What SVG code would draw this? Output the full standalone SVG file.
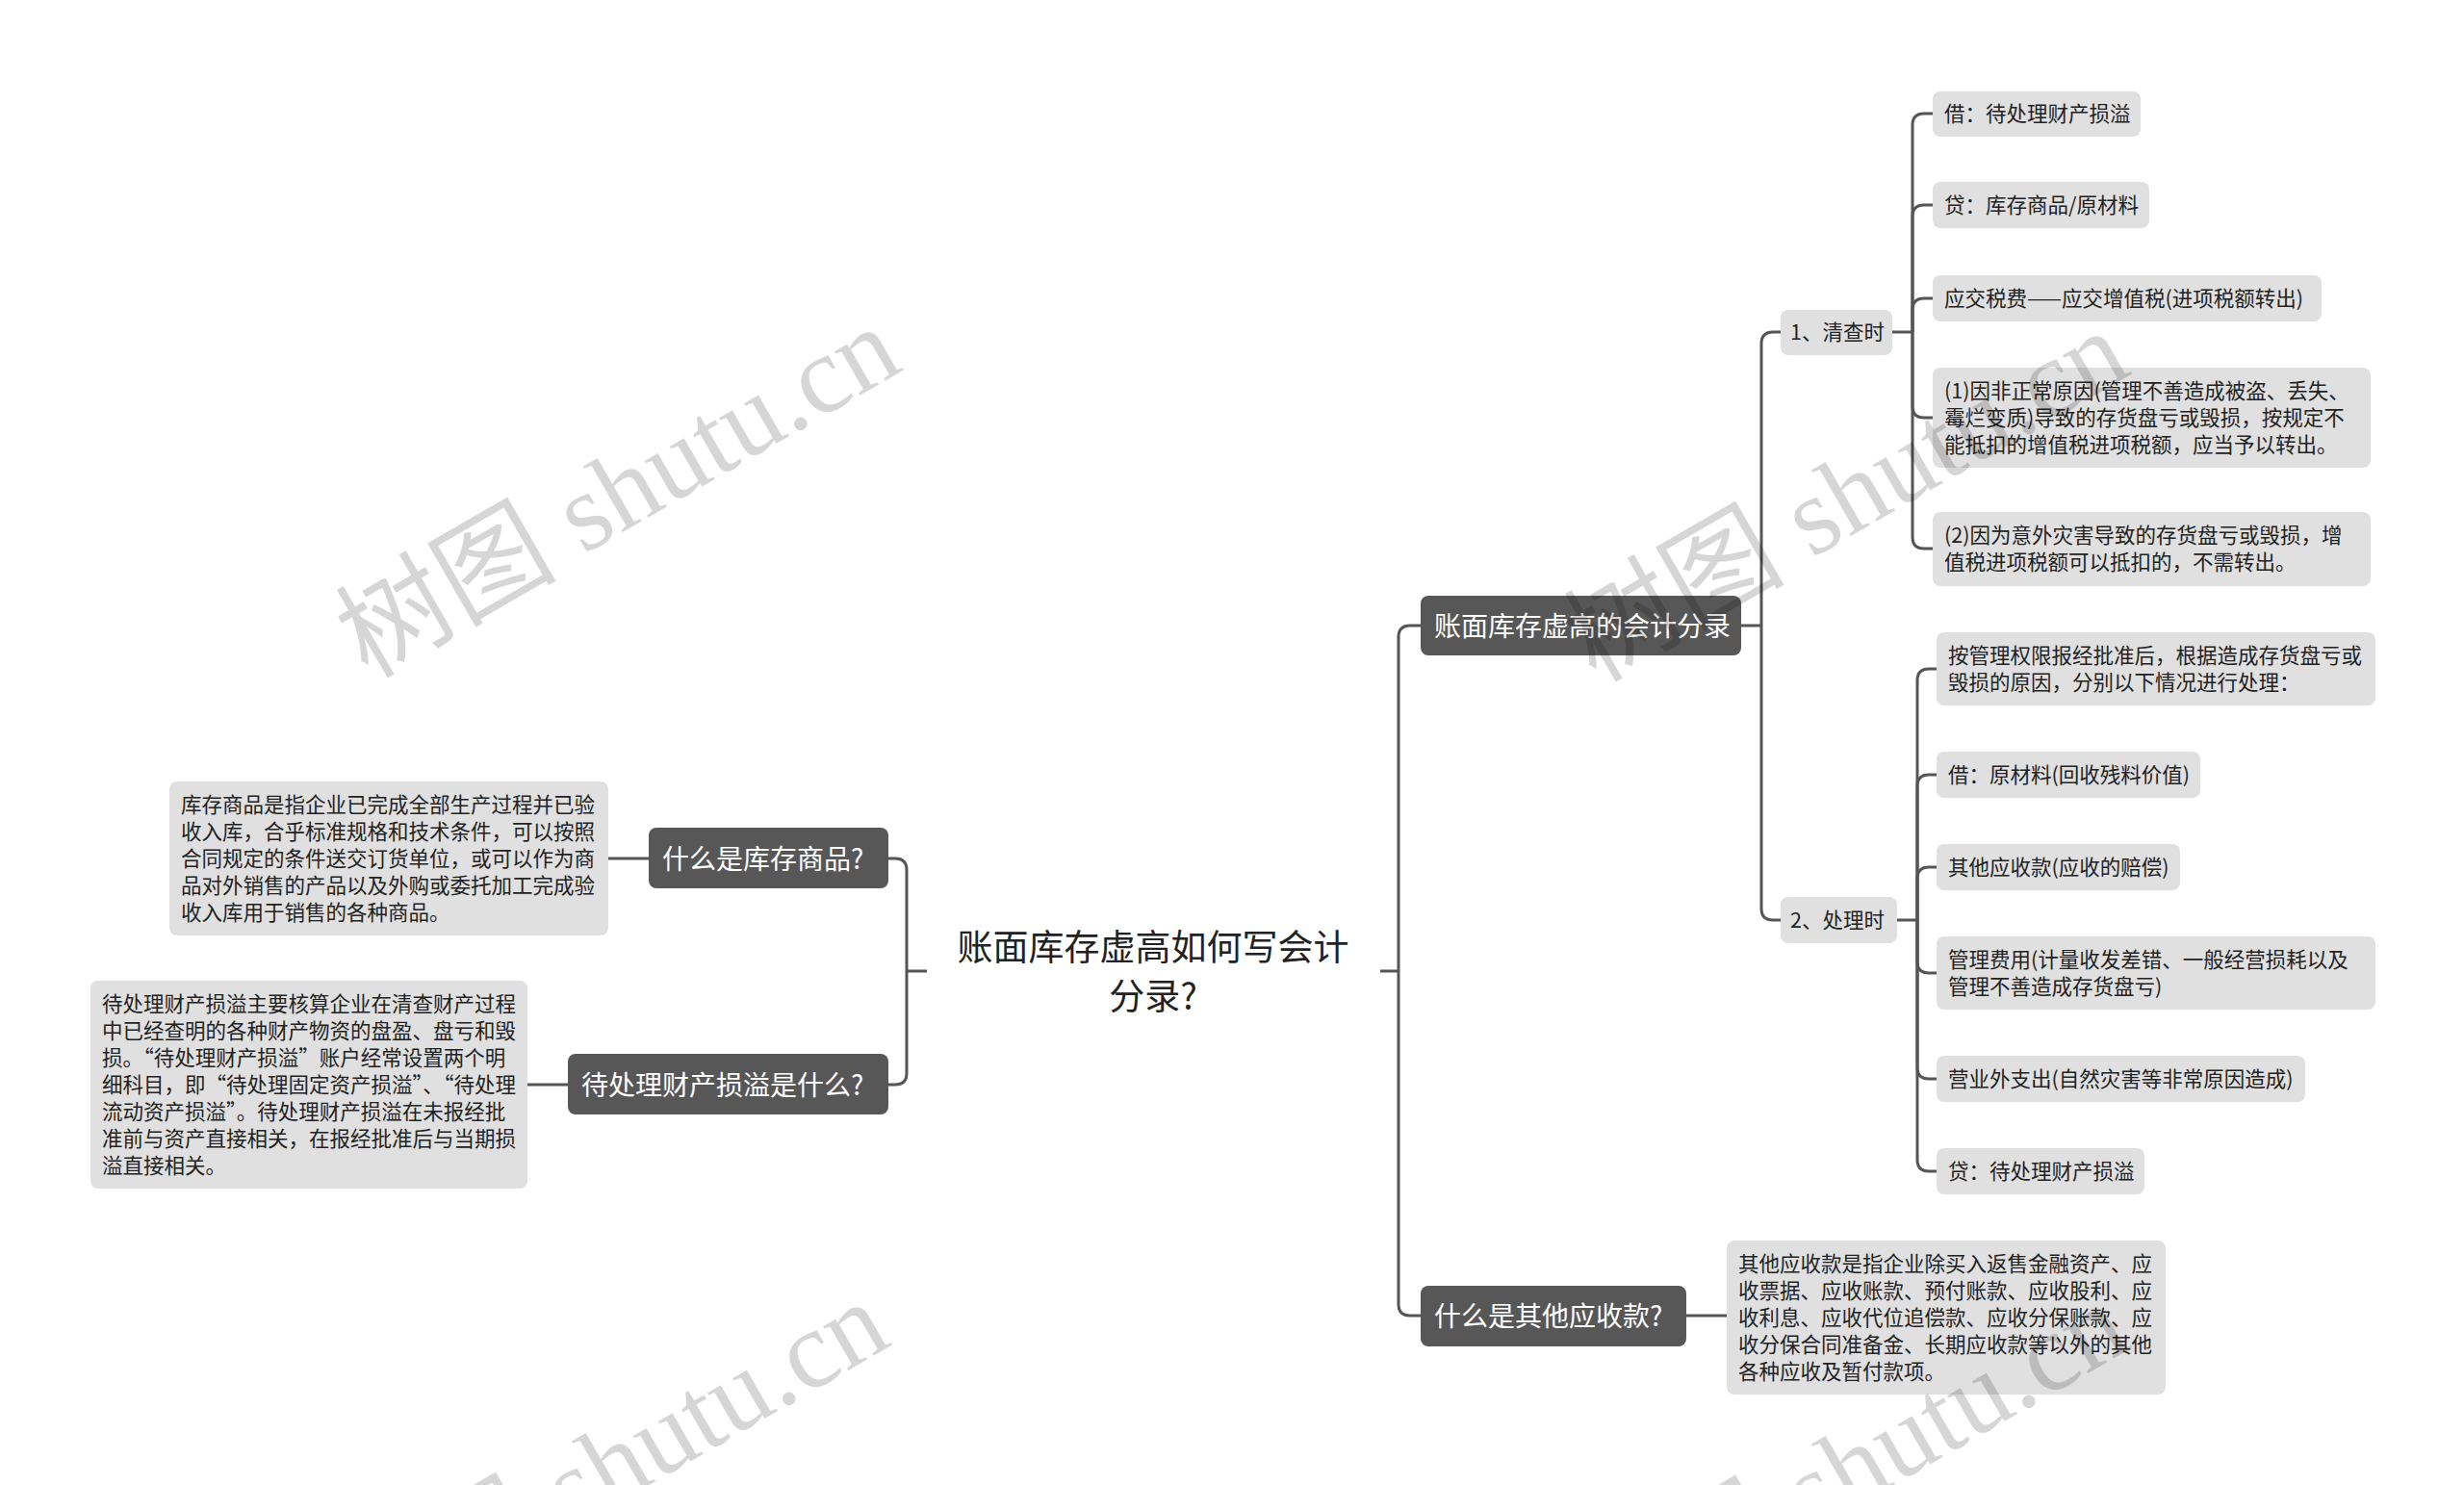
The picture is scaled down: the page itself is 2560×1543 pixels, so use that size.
<svg xmlns="http://www.w3.org/2000/svg" width="2560" height="1543" viewBox="0 0 2560 1543">
<style>
.bg{fill:#ffffff}
.dark rect{fill:#575757}
.dark text{fill:#ffffff;font-family:"Noto Sans CJK SC","Noto Sans",sans-serif;font-size:28px}
.leaf rect{fill:#e0e0e0}
.leaf text{fill:#222222;font-family:"Noto Sans CJK SC","Noto Sans",sans-serif;font-size:21.5px}
.root text{fill:#222222;font-family:"Noto Sans CJK SC","Noto Sans",sans-serif;font-size:37px}
.conn path{fill:none;stroke:#555555;stroke-width:3}
.wm{fill:#000000;fill-opacity:0.16;font-family:"Liberation Serif","Noto Sans CJK SC",serif;font-size:115px}
</style>
<rect class="bg" x="0" y="0" width="2560" height="1543"/>
<g id="connectors" class="conn">
<path d="M963,1009 H942"/>
<path d="M942,1009 V904 Q942,892 930,892 H923"/>
<path d="M942,1009 V1115 Q942,1127 930,1127 H923"/>
<path d="M674,892 H632"/>
<path d="M590,1127 H548"/>
<path d="M1434,1009 H1453"/>
<path d="M1453,1009 V662 Q1453,650 1465,650 H1476"/>
<path d="M1453,1009 V1355 Q1453,1367 1465,1367 H1476"/>
<path d="M1752,1367 H1794"/>
<path d="M1809,650 H1830"/>
<path d="M1830,650 V357 Q1830,345 1842,345 H1850"/>
<path d="M1830,650 V944 Q1830,956 1842,956 H1850"/>
<path d="M1966,345 H1987"/>
<path d="M1987,345 V130 Q1987,118 1999,118 H2008"/>
<path d="M1987,345 V225 Q1987,213 1999,213 H2008"/>
<path d="M1987,345 V322 Q1987,310 1999,310 H2008"/>
<path d="M1987,345 V422 Q1987,434 1999,434 H2008"/>
<path d="M1987,345 V558 Q1987,570 1999,570 H2008"/>
<path d="M1971,956 H1992"/>
<path d="M1992,956 V707 Q1992,695 2004,695 H2012"/>
<path d="M1992,956 V817 Q1992,805 2004,805 H2012"/>
<path d="M1992,956 V913 Q1992,901 2004,901 H2012"/>
<path d="M1992,956 V999 Q1992,1011 2004,1011 H2012"/>
<path d="M1992,956 V1109 Q1992,1121 2004,1121 H2012"/>
<path d="M1992,956 V1205 Q1992,1217 2004,1217 H2012"/>
</g>
<g id="root" class="root">
<text x="1198" y="998" text-anchor="middle">账面库存虚高如何写会计</text>
<text x="1198" y="1049" text-anchor="middle">分录?</text>
</g>
<g id="n-kucun" class="dark"><rect x="674" y="860" width="249" height="63" rx="8"/><text x="688" y="903">什么是库存商品?</text></g>
<g id="n-daichuli" class="dark"><rect x="590" y="1095" width="333" height="63" rx="8"/><text x="604" y="1138">待处理财产损溢是什么?</text></g>
<g id="n-zhangmian" class="dark"><rect x="1476" y="619" width="333" height="62" rx="8"/><text x="1490" y="661">账面库存虚高的会计分录</text></g>
<g id="n-qita" class="dark"><rect x="1476" y="1336" width="276" height="63" rx="8"/><text x="1490" y="1378">什么是其他应收款?</text></g>
<g id="d-kucun" class="leaf"><rect x="176" y="812" width="456" height="160" rx="8"/>
<text x="188" y="844">库存商品是指企业已完成全部生产过程并已验</text>
<text x="188" y="872">收入库，合乎标准规格和技术条件，可以按照</text>
<text x="188" y="900">合同规定的条件送交订货单位，或可以作为商</text>
<text x="188" y="928">品对外销售的产品以及外购或委托加工完成验</text>
<text x="188" y="956">收入库用于销售的各种商品。</text>
</g>
<g id="d-daichuli" class="leaf"><rect x="94" y="1019" width="454" height="216" rx="8"/>
<text x="106" y="1051">待处理财产损溢主要核算企业在清查财产过程</text>
<text x="106" y="1079">中已经查明的各种财产物资的盘盈、盘亏和毁</text>
<text x="106" y="1107">损。“待处理财产损溢”账户经常设置两个明</text>
<text x="106" y="1135">细科目，即“待处理固定资产损溢”、“待处理</text>
<text x="106" y="1163">流动资产损溢”。待处理财产损溢在未报经批</text>
<text x="106" y="1191">准前与资产直接相关，在报经批准后与当期损</text>
<text x="106" y="1219">溢直接相关。</text>
</g>
<g id="d-qita" class="leaf"><rect x="1794" y="1289" width="456" height="160" rx="8"/>
<text x="1806" y="1321">其他应收款是指企业除买入返售金融资产、应</text>
<text x="1806" y="1349">收票据、应收账款、预付账款、应收股利、应</text>
<text x="1806" y="1377">收利息、应收代位追偿款、应收分保账款、应</text>
<text x="1806" y="1405">收分保合同准备金、长期应收款等以外的其他</text>
<text x="1806" y="1433">各种应收及暂付款项。</text>
</g>
<g id="n-qingcha" class="leaf"><rect x="1850" y="322" width="116" height="47" rx="8"/><text x="1860" y="353">1、清查时</text></g>
<g id="n-chuli" class="leaf"><rect x="1850" y="932" width="121" height="48" rx="8"/><text x="1860" y="964">2、处理时</text></g>
<g id="l-q1" class="leaf"><rect x="2008" y="95" width="216" height="47" rx="8"/><text x="2020" y="126">借：待处理财产损溢</text></g>
<g id="l-q2" class="leaf"><rect x="2008" y="189" width="225" height="48" rx="8"/><text x="2020" y="221">贷：库存商品/原材料</text></g>
<g id="l-q3" class="leaf"><rect x="2008" y="286" width="404" height="48" rx="8"/><text x="2020" y="318">应交税费——应交增值税(进项税额转出)</text></g>
<g id="l-q4" class="leaf"><rect x="2008" y="382" width="455" height="104" rx="8"/>
<text x="2020" y="414">(1)因非正常原因(管理不善造成被盗、丢失、</text>
<text x="2020" y="442">霉烂变质)导致的存货盘亏或毁损，按规定不</text>
<text x="2020" y="470">能抵扣的增值税进项税额，应当予以转出。</text>
</g>
<g id="l-q5" class="leaf"><rect x="2008" y="532" width="455" height="77" rx="8"/>
<text x="2020" y="564">(2)因为意外灾害导致的存货盘亏或毁损，增</text>
<text x="2020" y="592">值税进项税额可以抵扣的，不需转出。</text>
</g>
<g id="l-c1" class="leaf"><rect x="2012" y="657" width="456" height="76" rx="8"/>
<text x="2024" y="689">按管理权限报经批准后，根据造成存货盘亏或</text>
<text x="2024" y="717">毁损的原因，分别以下情况进行处理：</text>
</g>
<g id="l-c2" class="leaf"><rect x="2012" y="781" width="274" height="48" rx="8"/><text x="2024" y="813">借：原材料(回收残料价值)</text></g>
<g id="l-c3" class="leaf"><rect x="2012" y="877" width="253" height="48" rx="8"/><text x="2024" y="909">其他应收款(应收的赔偿)</text></g>
<g id="l-c4" class="leaf"><rect x="2012" y="973" width="456" height="76" rx="8"/>
<text x="2024" y="1005">管理费用(计量收发差错、一般经营损耗以及</text>
<text x="2024" y="1033">管理不善造成存货盘亏)</text>
</g>
<g id="l-c5" class="leaf"><rect x="2012" y="1097" width="383" height="48" rx="8"/><text x="2024" y="1129">营业外支出(自然灾害等非常原因造成)</text></g>
<g id="l-c6" class="leaf"><rect x="2012" y="1193" width="216" height="48" rx="8"/><text x="2024" y="1225">贷：待处理财产损溢</text></g>
<g id="watermark">
<text class="wm" x="382" y="706" transform="rotate(-30 382 706)">树图 shutu.cn</text>
<text class="wm" x="370" y="1719" transform="rotate(-30 370 1719)">树图 shutu.cn</text>
<text class="wm" x="1658" y="710" transform="rotate(-30 1658 710)">树图 shutu.cn</text>
<text class="wm" x="1658" y="1722" transform="rotate(-30 1658 1722)">树图 shutu.cn</text>
</g>
</svg>
